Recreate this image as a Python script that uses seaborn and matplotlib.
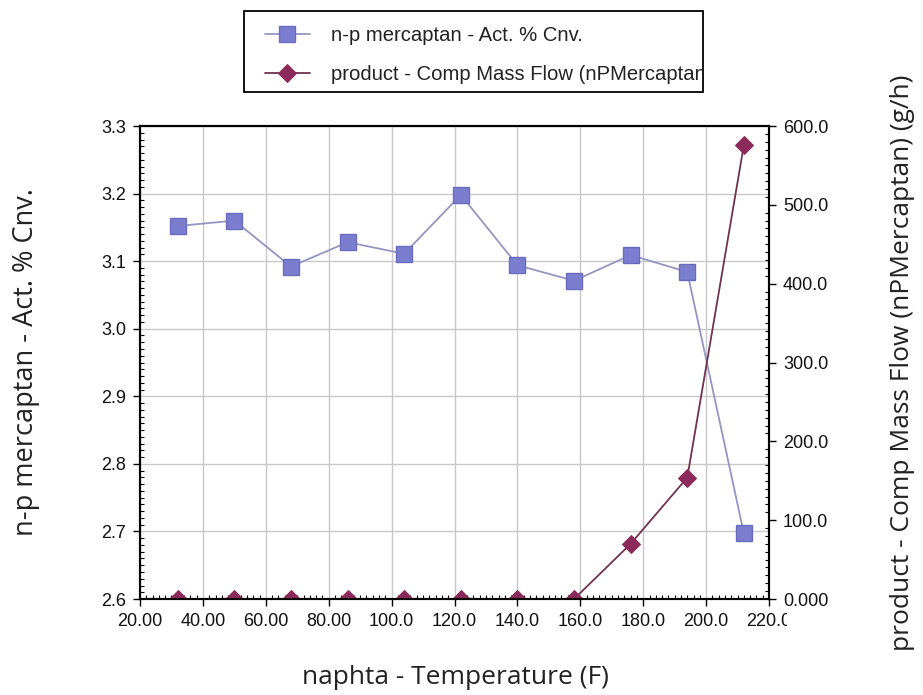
import matplotlib
matplotlib.use("Agg")
import matplotlib.pyplot as plt
import seaborn as sns
from matplotlib.ticker import FixedLocator, AutoMinorLocator
from matplotlib.transforms import Bbox, TransformedBbox
from matplotlib.patches import Rectangle

# data
temperature = [32, 50, 68, 86, 104, 122, 140, 158, 176, 194, 212]
conversion = [3.152, 3.160, 3.092, 3.128, 3.111, 3.198, 3.094, 3.071, 3.109, 3.084, 2.697]
mass_flow = [0, 0, 0, 0, 0, 0, 0, 0, 70, 154, 576]

x_ticks = [20, 40, 60, 80, 100, 120, 140, 160, 180, 200, 220]
x_ticklabels = ["20.00", "40.00", "60.00", "80.00", "100.0", "120.0", "140.0",
                "160.0", "180.0", "200.0", "220.0"]
left_ticks = [2.6, 2.7, 2.8, 2.9, 3.0, 3.1, 3.2, 3.3]
left_ticklabels = ["2.6", "2.7", "2.8", "2.9", "3.0", "3.1", "3.2", "3.3"]
right_ticks = [0, 100, 200, 300, 400, 500, 600]
right_ticklabels = ["0.000", "100.0", "200.0", "300.0", "400.0", "500.0", "600.0"]

label_left = "n-p mercaptan - Act. % Cnv."
label_right = "product - Comp Mass Flow (nPMercaptan) (g/h)"
label_x = "naphta - Temperature (F)"

sns.set_style("white")
plt.rcParams['font.family'] = ['Open Sans', 'DejaVu Sans']

blue = "#7b7ecf"
blue_line = "#9496c0"
red = "#8c2a5c"
red_line = "#6e3450"

fig = plt.figure(figsize=(9.23, 6.95), dpi=100)
ax = fig.add_axes([0.1517, 0.1381, 0.6815, 0.6806])
ax2 = ax.twinx()

sns.lineplot(x=temperature, y=conversion, ax=ax, color=blue_line, linewidth=1.3,
             marker="s", markersize=12, markerfacecolor=blue, markeredgecolor="#6a6cc0",
             markeredgewidth=1, label="n-p mercaptan - Act. % Cnv.")
sns.lineplot(x=temperature, y=mass_flow, ax=ax2, color=red_line, linewidth=1.3,
             marker="D", markersize=9.5, markerfacecolor=red, markeredgecolor=red,
             label="product - Comp Mass Flow (nPMercaptan) (g/h)")

h1, l1 = ax.get_legend_handles_labels()
h2, l2 = ax2.get_legend_handles_labels()
for a in (ax, ax2):
    if a.get_legend() is not None:
        a.get_legend().remove()

ax.set_xlim(20, 220)
ax.set_ylim(2.6, 3.3)
ax2.set_ylim(0, 600)

ax.xaxis.set_major_locator(FixedLocator(x_ticks))
ax.set_xticklabels(x_ticklabels)
ax.yaxis.set_major_locator(FixedLocator(left_ticks))
ax.set_yticklabels(left_ticklabels)
ax2.yaxis.set_major_locator(FixedLocator(right_ticks))
ax2.set_yticklabels(right_ticklabels)
ax.xaxis.set_minor_locator(AutoMinorLocator(10))
ax.yaxis.set_minor_locator(AutoMinorLocator(10))
ax2.yaxis.set_minor_locator(AutoMinorLocator(10))

tick_font = ['Liberation Sans', 'DejaVu Sans']
for a in (ax, ax2):
    a.tick_params(which="major", direction="out", length=5, width=1, color="black",
                  labelsize=13, pad=5, labelcolor="#111111")
    a.tick_params(which="minor", direction="in", length=3, width=0.8, color="black")
    for lab in a.get_xticklabels() + a.get_yticklabels():
        lab.set_family(tick_font)
ax.tick_params(axis="y", which="both", left=True, right=False)
ax.tick_params(axis="x", which="both", bottom=True, top=False)
ax2.tick_params(axis="y", which="both", right=True, left=False)

ax.grid(True, which="major", color="#c8c8c8", linewidth=1)
ax2.grid(False)
for a in (ax, ax2):
    for sp in a.spines.values():
        sp.set_color("black")
        sp.set_linewidth(1.5)

ax.set_xlabel(label_x, fontsize=19, color="#222222")
ax.set_ylabel(label_left, fontsize=19.5, color="#222222")
ax2.set_ylabel(label_right, fontsize=19, color="#222222", rotation=90)
ax.xaxis.set_label_coords(0.502, -0.165)
ax.xaxis.label.set_va("center")
ax.yaxis.set_label_coords(-0.181, 0.5)
ax.yaxis.label.set_va("center")
ax2.yaxis.set_label_coords(1.212, 0.5)
ax2.yaxis.label.set_va("center")

# the last x tick label is cut off in the original
clip_x = TransformedBbox(Bbox.from_extents(0, 0, 0.853, 1), fig.transFigure)
for lab in ax.get_xticklabels():
    lab.set_clip_box(clip_x)
    lab.set_clip_on(True)

# legend box at the top
box = (0.264, 0.868, 0.762, 0.984)
fig.patches.append(Rectangle((box[0], box[1]), box[2] - box[0], box[3] - box[1],
                             transform=fig.transFigure, fill=False, edgecolor="black",
                             linewidth=1.3))
leg = fig.legend(h1 + h2, l1 + l2, loc="upper left", bbox_to_anchor=(0.287, 0.962),
                 frameon=False, borderpad=0, borderaxespad=0, handlelength=2.2,
                 handletextpad=1.05, labelspacing=0.95,
                 prop={'family': ['Liberation Sans', 'DejaVu Sans'], 'size': 14.6})
clip_leg = TransformedBbox(Bbox.from_extents(*box), fig.transFigure)
for t in leg.get_texts():
    t.set_clip_box(clip_leg)
    t.set_clip_on(True)
    t.set_color("#222222")

fig.savefig("out.png", dpi=100)
